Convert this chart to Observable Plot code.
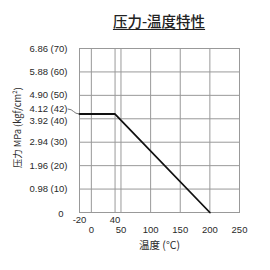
<!DOCTYPE html>
<html><head><meta charset="utf-8">
<script src="https://cdn.jsdelivr.net/npm/d3@7"></script>
<script src="https://cdn.jsdelivr.net/npm/@observablehq/plot@0.6"></script>
<style>
body{margin:0;background:#fff;}
#t{height:40px;width:270px;position:relative;font-family:"Noto Sans CJK SC";}
#t span{position:absolute;left:159px;top:14px;transform:translateX(-50%);font-size:14.5px;font-weight:500;text-decoration:underline;text-underline-offset:2px;color:#222;white-space:nowrap;line-height:1;}
</style></head><body>
<div id="t"><span>压力-温度特性</span></div>
<div id="c"></div>
<script>
const title = "压力-温度特性";
const xLabel = "温度 (°C)";
const yLabel = "压力 MPa (kgf/cm²)";
const xTicksUpper = [-20, 40];
const xTicksLower = [0, 50, 100, 150, 200, 250];
const xGrid = [0, 40, 50, 100, 150, 200];
const yGrid = [0.98, 1.96, 2.94, 3.92, 4.90, 5.88];
const yTicksMain = [0.98, 1.96, 2.94, 4.90, 5.88, 6.86];
const yTickLabels = {0: "0", 0.98: "0.98 (10)", 1.96: "1.96 (20)", 2.94: "2.94 (30)", 3.92: "3.92 (40)", 4.12: "4.12 (42)", 4.90: "4.90 (50)", 5.88: "5.88 (60)", 6.86: "6.86 (70)"};
const temps = [-20, 40, 200];
const pressures = [4.12, 4.12, 0];
const data = temps.map((t, i) => ({t, p: pressures[i]}));
const leader = [{x1: -40, y1: 4.33, x2: -20, y2: 4.12}];

const gray = "#999";
const ink = "#2a2a2a";
const font = "Liberation Sans, Arial, sans-serif";
const fmt = d => yTickLabels[d];
const chart = Plot.plot({
  width: 270, height: 230,
  marginTop: 8, marginBottom: 58, marginLeft: 79, marginRight: 31,
  style: {fontFamily: font, fontSize: "9.5px", color: ink, background: "#fff"},
  x: {domain: [-20, 250]},
  y: {domain: [0, 6.86]},
  marks: [
    Plot.ruleX(xGrid, {stroke: gray, strokeWidth: 1}),
    Plot.ruleY(yGrid, {stroke: gray, strokeWidth: 1}),
    Plot.frame({stroke: gray, strokeWidth: 1}),
    Plot.line(data, {x: "t", y: "p", stroke: "#111", strokeWidth: 1.8}),
    Plot.link(leader, {x1: "x1", y1: "y1", x2: "x2", y2: "y2", curve: "bump-x", stroke: "#555", strokeWidth: 0.8, clip: false}),
    Plot.axisY(yTicksMain, {tickSize: 0, tickPadding: 12, tickFormat: fmt, label: null, fill: ink}),
    Plot.axisY([4.12], {tickSize: 0, tickPadding: 12, tickFormat: fmt, label: null, dy: -5, fill: ink}),
    Plot.axisY([3.92], {tickSize: 0, tickPadding: 12, tickFormat: fmt, label: null, dy: 2, fill: ink}),
    Plot.axisY([0], {tickSize: 0, tickPadding: 16, tickFormat: fmt, label: null, dy: 1, fill: ink}),
    Plot.axisX(xTicksUpper, {tickSize: 0, tickPadding: 4, label: null, tickFormat: d => d, fill: ink}),
    Plot.axisX(xTicksLower, {tickSize: 0, tickPadding: 14, label: null, tickFormat: d => d, fill: ink}),
    Plot.text([xLabel], {frameAnchor: "bottom", dy: 36, fontFamily: "Noto Sans CJK SC", fontSize: 10.5, fill: ink}),
    Plot.text([yLabel], {frameAnchor: "left", textAnchor: "middle", dx: -61, dy: -3, rotate: -90, fontFamily: "Noto Sans CJK SC", fontSize: 9.3, fill: ink})
  ]
});
document.getElementById("c").appendChild(chart);
</script>
</body></html>
